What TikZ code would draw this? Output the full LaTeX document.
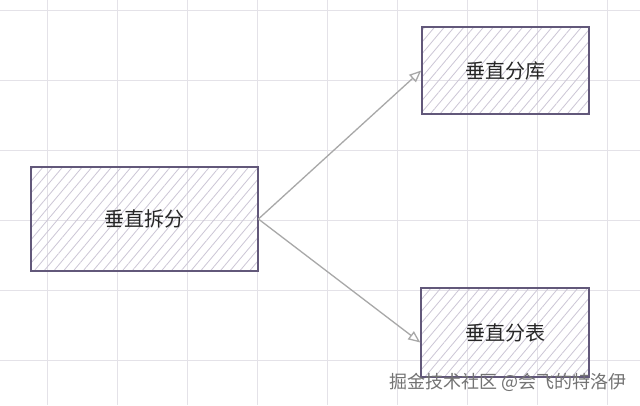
\documentclass[tikz,border=0pt]{standalone}
\usepackage{fontspec}
\usepackage{xcolor}
\usetikzlibrary{arrows.meta,patterns.meta}
\newfontfamily\cjk{Noto Sans CJK SC}
\definecolor{gridgray}{HTML}{E4E2E8}
\definecolor{boxline}{HTML}{62587A}
\definecolor{hatch}{HTML}{CCC6D6}
\definecolor{arrowgray}{HTML}{A8A8A8}

\begin{document}
\begin{tikzpicture}[x=1pt,y=-1pt,
  box/.style={draw=boxline, line width=1.4pt, inner sep=0pt,
    pattern={Lines[angle=50,distance=7.5pt,line width=0.8pt]}, pattern color=hatch,
    font=\cjk\fontsize{20}{24}\selectfont, text=black!85},
  link/.style={draw=arrowgray, line width=1.3pt, -{Triangle[open,length=12pt,width=10pt]}}]
\useasboundingbox (0,0) rectangle (640,405);
\fill[white] (0,0) rectangle (640,405);
% grid
\foreach \x in {47,117,...,607} {
  \draw[gridgray, line width=0.7pt] (\x,0) -- (\x,405);
}
\foreach \y in {10,80,...,360} {
  \draw[gridgray, line width=0.7pt] (0,\y) -- (640,\y);
}
\node[box, minimum width=227pt, minimum height=104pt] (split) at (144.5,219) {垂直拆分};
\node[box, minimum width=167pt, minimum height=87pt] (lib) at (505.5,70.5) {垂直分库};
\node[box, minimum width=168pt, minimum height=89pt] (tbl) at (505,332.5) {垂直分表};
\draw[link] (split.east) -- (lib.west);
\draw[link] (split.east) -- ([yshift=-10pt]tbl.west);
\node[anchor=east, inner sep=0pt, font=\cjk\fontsize{18}{20}\selectfont, text=black!55] (mark) at (627,382) {掘金技术社区 @会飞的特洛伊};
\end{tikzpicture}
\end{document}
